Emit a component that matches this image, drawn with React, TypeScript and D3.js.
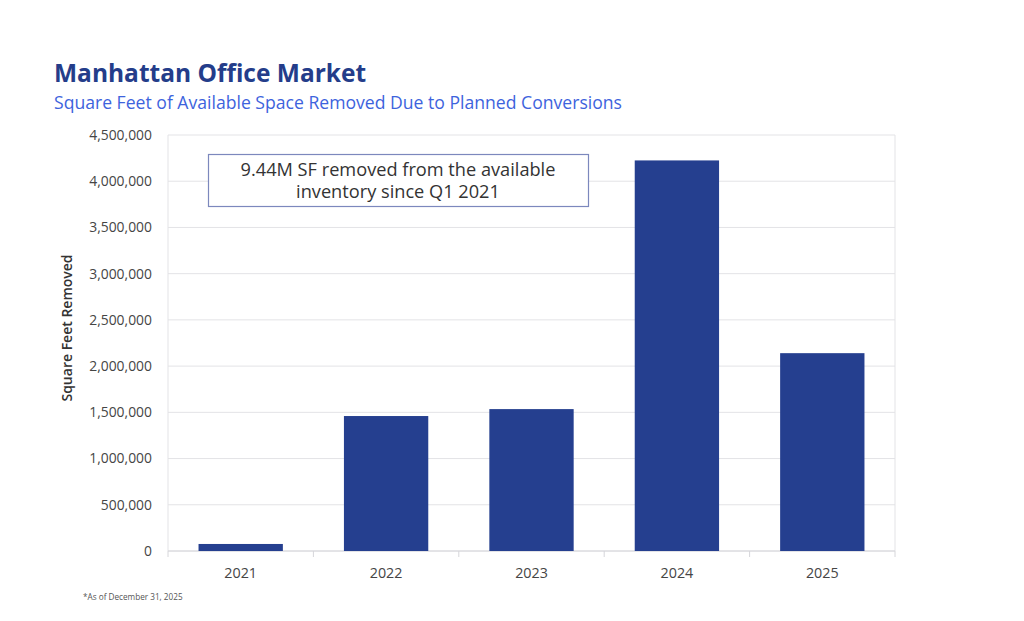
import React from "react";
import * as d3 from "d3";

const years = ["2021", "2022", "2023", "2024", "2025"];
const sqftRemoved = [76000, 1460000, 1535000, 4225000, 2140000];
const yTicks = [0, 500000, 1000000, 1500000, 2000000, 2500000, 3000000, 3500000, 4000000, 4500000];

const FONT = "'Open Sans', 'Noto Sans', sans-serif";

const App: React.FC = () => {
    const width = 1024;
    const height = 621;
    const margin = { top: 135, right: 129, bottom: 70, left: 168 };
    const innerW = width - margin.left - margin.right;
    const innerH = height - margin.top - margin.bottom;

    const x = d3.scaleBand<string>().domain(years).range([0, innerW]).paddingInner(0.42).paddingOuter(0.21);
    const y = d3.scaleLinear().domain([0, 4500000]).range([innerH, 0]);
    const fmt = d3.format(",");
    const step = innerW / years.length;

    return (
        <svg width={width} height={height} style={{ position: "absolute", left: 0, top: 0, background: "#fff" }}>
            <text x={54} y={82} fontFamily={FONT} fontSize={24.5} fontWeight={700} fill="#243d8a">
                Manhattan Office Market
            </text>
            <text x={54} y={109} fontFamily={FONT} fontSize={17.6} fill="#3d63dd">
                Square Feet of Available Space Removed Due to Planned Conversions
            </text>

            <g transform={`translate(${margin.left},${margin.top})`}>
                {/* gridlines */}
                {yTicks.map((t) => (
                    <line key={t} x1={0} x2={innerW} y1={y(t)} y2={y(t)} stroke="#e3e3e6" strokeWidth={1} />
                ))}
                <line x1={0} x2={0} y1={0} y2={innerH} stroke="#e3e3e6" />
                <line x1={innerW} x2={innerW} y1={0} y2={innerH} stroke="#e3e3e6" />
                <line x1={0} x2={innerW} y1={innerH} y2={innerH} stroke="#d6d6da" />
                {/* category separators */}
                {years.map((_, i) => (
                    <line key={i} x1={i * step} x2={i * step} y1={innerH} y2={innerH + 6} stroke="#d6d6da" />
                ))}
                <line x1={innerW} x2={innerW} y1={innerH} y2={innerH + 6} stroke="#d6d6da" />

                {/* y labels */}
                {yTicks.map((t) => (
                    <text key={t} x={-16} y={y(t)} dy="0.35em" textAnchor="end" fontFamily={FONT} fontSize={13.9} fill="#454545">
                        {fmt(t)}
                    </text>
                ))}

                {/* bars */}
                {years.map((yr, i) => (
                    <rect
                        key={yr}
                        x={x(yr)}
                        y={y(sqftRemoved[i])}
                        width={x.bandwidth()}
                        height={innerH - y(sqftRemoved[i])}
                        fill="#253f8f"
                    />
                ))}

                {/* x labels */}
                {years.map((yr) => (
                    <text key={yr} x={(x(yr) ?? 0) + x.bandwidth() / 2} y={innerH + 27} textAnchor="middle" fontFamily={FONT} fontSize={14.3} fill="#454545">
                        {yr}
                    </text>
                ))}
            </g>

            <text
                transform={`translate(72,328) rotate(-90)`}
                textAnchor="middle"
                fontFamily={FONT}
                fontSize={14}
                fontWeight={600}
                fill="#333"
            >
                Square Feet Removed
            </text>

            {/* annotation box */}
            <rect x={208.5} y={154.5} width={380} height={52} fill="#fff" stroke="#7c88bd" strokeWidth={1.2} />
            <text x={398} y={176} textAnchor="middle" fontFamily={FONT} fontSize={18.2} fill="#333">
                9.44M SF removed from the available
            </text>
            <text x={398} y={198} textAnchor="middle" fontFamily={FONT} fontSize={18.2} fill="#333">
                inventory since Q1 2021
            </text>

            <text x={83} y={600} fontFamily={FONT} fontSize={8.2} fill="#555">
                *As of December 31, 2025
            </text>
        </svg>
    );
};

export default App;
